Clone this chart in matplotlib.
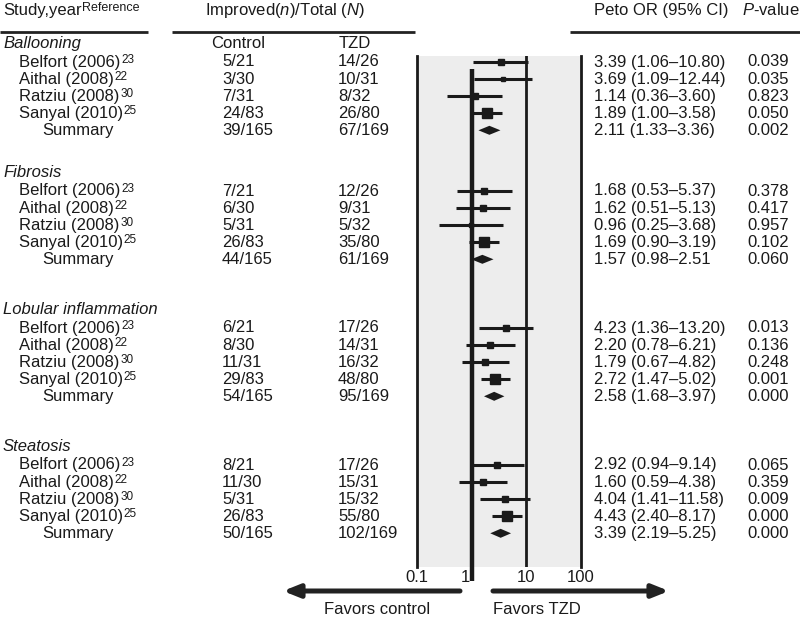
import numpy as np
import matplotlib.pyplot as plt
from matplotlib.ticker import NullLocator

plt.rcParams['font.family'] = 'Liberation Sans'
plt.rcParams['font.size'] = 12
plt.rcParams['mathtext.fontset'] = 'custom'
plt.rcParams['mathtext.rm'] = 'Liberation Sans'
plt.rcParams['mathtext.it'] = 'Liberation Sans:italic'

# ---- data ----
groups = ["Ballooning", "Fibrosis", "Lobular inflammation", "Steatosis"]
studies = ["Belfort (2006)", "Aithal (2008)", "Ratziu (2008)", "Sanyal (2010)"]
refs = ["23", "22", "30", "25"]

ctrl_n = [[5, 3, 7, 24, 39], [7, 6, 5, 26, 44], [6, 8, 11, 29, 54], [8, 11, 5, 26, 50]]
ctrl_N = [21, 30, 31, 83, 165]
tzd_n = [[14, 10, 8, 26, 67], [12, 9, 5, 35, 61], [17, 14, 16, 48, 95], [17, 15, 15, 55, 102]]
tzd_N = [26, 31, 32, 80, 169]

peto_or = [[3.39, 3.69, 1.14, 1.89, 2.11], [1.68, 1.62, 0.96, 1.69, 1.57],
           [4.23, 2.20, 1.79, 2.72, 2.58], [2.92, 1.60, 4.04, 4.43, 3.39]]
ci_lo = [[1.06, 1.09, 0.36, 1.00, 1.33], [0.53, 0.51, 0.25, 0.90, 0.98],
         [1.36, 0.78, 0.67, 1.47, 1.68], [0.94, 0.59, 1.41, 2.40, 2.19]]
ci_hi = [[10.80, 12.44, 3.60, 3.58, 3.36], [5.37, 5.13, 3.68, 3.19, 2.51],
         [13.20, 6.21, 4.82, 5.02, 3.97], [9.14, 4.38, 11.58, 8.17, 5.25]]
p_val = [[0.039, 0.035, 0.823, 0.050, 0.002], [0.378, 0.417, 0.957, 0.102, 0.060],
         [0.013, 0.136, 0.248, 0.001, 0.000], [0.065, 0.359, 0.009, 0.000, 0.000]]

tick_vals = [0.1, 1, 10, 100]
tick_lbls = ["0.1", "1", "10", "100"]

# ---- layout (pixel units, y downwards) ----
W, H = 800, 617
group_y = [43, 172, 309, 446]
first_off, gap = 18.5, 17.2
base = 5          # centre -> baseline
ink = '#1a1a1a'


def sup(parent, s, size=8.5):
    # small raised text glued to the right edge of another text
    ax.annotate(s, xy=(1, 1), xycoords=parent, xytext=(0.5, 0.5), textcoords='offset points',
                ha='left', va='top', fontsize=size, color=ink)


fig = plt.figure(figsize=(8, 6.17), dpi=100)
ax = fig.add_axes([0, 0, 1, 1])
ax.set_xlim(0, W)
ax.set_ylim(H, 0)
ax.axis('off')

# forest panel: 0.1 .. 100 on a log axis
fx0, fx1, fy0, fy1 = 417, 581, 56, 567
axf = fig.add_axes([fx0 / W, 1 - fy1 / H, (fx1 - fx0) / W, (fy1 - fy0) / H])
axf.set_xscale('log')
axf.set_xlim(0.1, 100)
axf.set_ylim(fy1, fy0)
axf.set_facecolor('#ededed')
for s in ['top', 'bottom']:
    axf.spines[s].set_visible(False)
for s in ['left', 'right']:
    axf.spines[s].set_linewidth(2)
    axf.spines[s].set_color(ink)
axf.set_yticks([])
axf.set_xticks([])
axf.xaxis.set_minor_locator(NullLocator())
axf.axvline(10, lw=2, color=ink)
axf.plot([1, 1], [69, 581], lw=3.2, color=ink, clip_on=False, solid_capstyle='butt', zorder=5)
for v, lbl in zip(tick_vals, tick_lbls):
    if v == 1:
        axf.text(v * 0.95, fy1 + 10 + base, lbl, ha='right', va='baseline', clip_on=False, color=ink)
    else:
        axf.text(v, fy1 + 10 + base, lbl, ha='center', va='baseline', clip_on=False, color=ink)

# headers
t = ax.text(3, 15, 'Study,year', va='baseline', color=ink)
sup(t, 'Reference', 9)
ax.text(285, 15, r'Improved($\mathit{n}$)/Total ($\mathit{N}$)', ha='center', va='baseline', color=ink)
ax.text(594, 15, 'Peto OR (95% CI)', va='baseline', color=ink)
ax.text(742, 15, r'$\mathit{P}$-value', va='baseline', color=ink)
for xa, xb in [(0, 148), (172, 415), (570, 800)]:
    ax.plot([xa, xb], [32, 32], lw=2, color='#222222', solid_capstyle='butt')
ax.text(211, group_y[0] + base, 'Control', va='baseline', color=ink)
ax.text(339, group_y[0] + base, 'TZD', va='baseline', color=ink)

for g in range(len(groups)):
    gy = group_y[g]
    ax.text(3, gy + base, groups[g], style='italic', va='baseline', color=ink)
    for i in range(5):
        y = gy + first_off + i * gap
        if i < 4:
            t = ax.text(19, y + base, studies[i], va='baseline', color=ink)
            sup(t, refs[i])
        else:
            ax.text(42, y + base, 'Summary', va='baseline', color=ink)
        ax.text(222, y + base, f'{ctrl_n[g][i]}/{ctrl_N[i]}', va='baseline', color=ink)
        ax.text(338, y + base, f'{tzd_n[g][i]}/{tzd_N[i]}', va='baseline', color=ink)
        est, lo, hi = peto_or[g][i], ci_lo[g][i], ci_hi[g][i]
        or_txt = f'{est:.2f} ({lo:.2f}\u2013{hi:.2f})'
        if g == 1 and i == 4:
            or_txt = or_txt[:-1]   # the source drops the closing bracket here
        ax.text(594, y + base, or_txt, va='baseline', color=ink)
        ax.text(747, y + base, f'{p_val[g][i]:.3f}', va='baseline', color=ink)

        if i < 4:
            se = (np.log(hi) - np.log(lo)) / 3.92
            ms = 2.2 * np.sqrt(1 / se ** 2)
            axf.plot([lo, hi], [y, y], lw=2.2, color=ink, solid_capstyle='butt', clip_on=False, zorder=6)
            axf.plot(est, y, 's', ms=ms, color=ink, zorder=7)
        else:
            axf.fill([lo, est, hi, est], [y, y - 4.5, y, y + 4.5], color=ink, lw=0, zorder=7)

# direction arrows
for x_from, x_to in [(460, 283), (493, 669)]:
    ax.annotate('', xy=(x_to, 591), xytext=(x_from, 591),
                arrowprops=dict(arrowstyle='-|>,head_length=0.8,head_width=0.32', lw=3.6,
                                color='#222222', shrinkA=0, shrinkB=0, mutation_scale=12))
    d = 1 if x_to > x_from else -1
    ax.plot([x_from, x_to - d * 12], [591, 591], lw=1.2, color='#9a9a9a', solid_capstyle='butt')
ax.text(377, 614, 'Favors control', ha='center', va='baseline', color=ink)
ax.text(493, 614, 'Favors TZD', ha='left', va='baseline', color=ink)

fig.savefig('out.png', dpi=100, facecolor='white')
